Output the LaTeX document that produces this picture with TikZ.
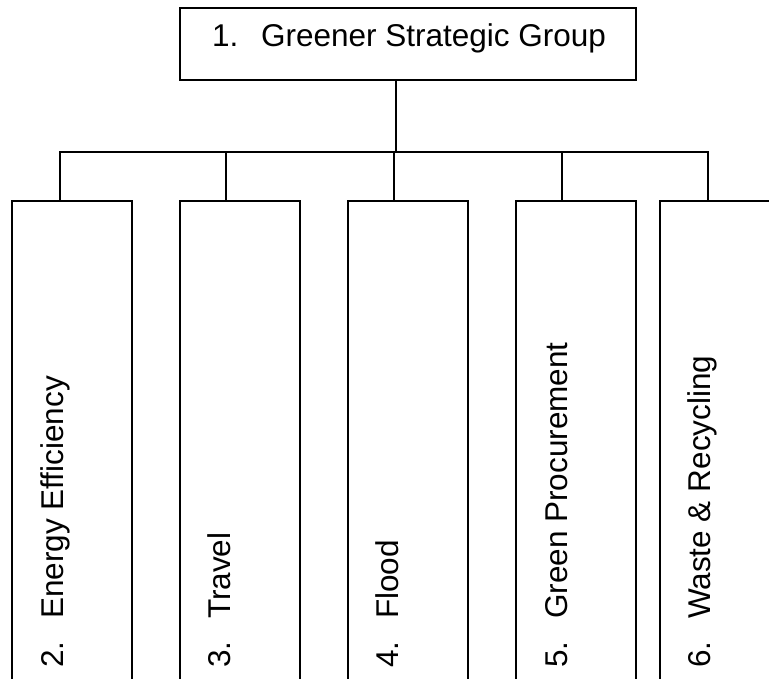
\documentclass[tikz,border=0pt]{standalone}
\usepackage{fontspec}
\setmainfont{Liberation Sans}
\begin{document}
\begin{tikzpicture}[x=1pt,y=-1pt,
  box/.style={draw=black,line width=1.8pt,inner sep=0pt,anchor=north west},
  subbox/.style={box,minimum width=120pt,minimum height=520pt},
  lbl/.style={inner sep=0pt,font=\fontsize{31.5}{36}\selectfont},
  vlbl/.style={lbl,rotate=90,anchor=base west},
  conn/.style={draw=black,line width=1.6pt}]
\useasboundingbox (0,0) rectangle (769,679);
\clip (0,0) rectangle (769,679);
% top box
\node[box,minimum width=456pt,minimum height=72pt] (top) at (179,7) {};
\node[lbl,anchor=base west] (toplbl) at (212,47) {1.\hspace{0.72em}Greener Strategic Group};
% sub boxes
\node[subbox] (b1) at (11,200) {};
\node[subbox] (b2) at (179,200) {};
\node[subbox] (b3) at (347,200) {};
\node[subbox] (b4) at (515,200) {};
\node[subbox] (b5) at (659,200) {};
% labels
\node[vlbl] (l1) at (63,668) {2.\hspace{0.72em}Energy Efficiency};
\node[vlbl] (l2) at (230,668) {3.\hspace{0.72em}Travel};
\node[vlbl] (l3) at (398,668) {4.\hspace{0.72em}Flood};
\node[vlbl] (l4) at (567,668) {5.\hspace{0.72em}Green Procurement};
\node[vlbl] (l5) at (710,668) {6.\hspace{0.72em}Waste \& Recycling};
% connectors
\coordinate (tstub) at ([xshift=-12pt]top.south);
\coordinate (bus) at (395,152);
\coordinate (s1) at ([xshift=-12pt]b1.north);
\coordinate (s2) at ([xshift=-14pt]b2.north);
\coordinate (s3) at ([xshift=-14pt]b3.north);
\coordinate (s4) at ([xshift=-14pt]b4.north);
\coordinate (s5) at ([xshift=-12pt]b5.north);
\draw[conn] (tstub) -- (tstub |- bus);
\draw[conn] (s1) -- (s1 |- bus) -- (s5 |- bus) -- (s5);
\draw[conn] (s2) -- (s2 |- bus);
\draw[conn] (s3) -- (s3 |- bus);
\draw[conn] (s4) -- (s4 |- bus);
\end{tikzpicture}
\end{document}
